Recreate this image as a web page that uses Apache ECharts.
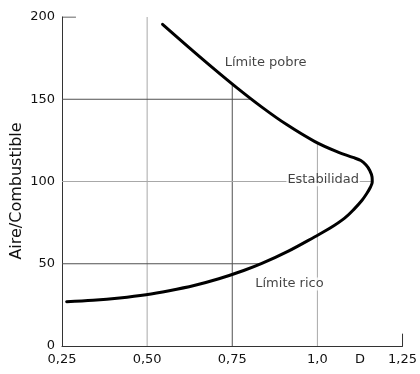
<!DOCTYPE html>
<html><head><meta charset="utf-8">
<script src="https://cdn.jsdelivr.net/npm/echarts@6/dist/echarts.min.js"></script>
<style>html,body{margin:0;padding:0;background:#fff}#c{width:420px;height:374px}</style>
</head><body><div id="c"></div>
<script>
// Curve: Aire/Combustible vs x (upper "pobre" branch, nose, then lower "rico" branch)
const curveX = [0.5453, 0.6182, 0.6911, 0.7640, 0.8369, 0.9098, 0.9926, 1.0605, 1.1042, 1.1276, 1.1430, 1.1538, 1.1605, 1.1611, 1.1552, 1.1450, 1.1305, 1.1092, 1.0800, 1.0363, 0.9926, 0.9147, 0.8369, 0.7835, 0.7106, 0.6378, 0.5649, 0.4969, 0.4191, 0.3413, 0.2637];
const curveY = [195.56, 182.31, 169.39, 156.93, 145.23, 134.59, 124.26, 117.87, 114.65, 112.77, 110.03, 106.69, 102.74, 99.70, 96.35, 92.70, 88.45, 83.53, 77.75, 71.55, 66.44, 57.69, 50.21, 45.90, 40.88, 36.78, 33.62, 31.19, 29.24, 27.84, 26.93];
const xTickValues = [0.25, 0.5, 0.75, 1.0, 1.125, 1.25];
const xTickLabels = ['0,25', '0,50', '0,75', '1,0', 'D', '1,25'];
const yTicks = [0, 50, 100, 150, 200];
// Grid lines, ending where they meet the curve
const vGridX = [0.5, 0.75, 1.0];
const vGridTop = [200, 159.3, 123.5];
const hGridY = [150, 100, 50];
const hGridEnd = [0.807, 1.161, 0.837];
const annNames = ['Límite pobre', 'Estabilidad', 'Límite rico'];
const annX = [0.848, 1.017, 0.918];
const annY = [172, 101, 37.7];

const dark = '#505050', light = '#a8a8a8';
const vColors = [light, dark, light];
const hColors = [dark, light, dark];
const series = [];
vGridX.forEach((x, i) => series.push({type:'line', data:[[x,0],[x,vGridTop[i]]], symbol:'none', silent:true, lineStyle:{color:vColors[i], width:1}, z:1}));
hGridY.forEach((y, i) => series.push({type:'line', data:[[0.25,y],[hGridEnd[i],y]], symbol:'none', silent:true, lineStyle:{color:hColors[i], width:1}, z:1}));
// end ticks
series.push({type:'line', data:[[0.25,200],[0.291,200]], symbol:'none', lineStyle:{color:'#333', width:1}, z:1});
series.push({type:'line', data:[[1.25,0],[1.25,7.5]], symbol:'none', lineStyle:{color:'#333', width:1}, z:1});
series.push({type:'line', data:curveX.map((x,i)=>[x,curveY[i]]), symbol:'none', smooth:0.35, lineStyle:{color:'#000', width:3, cap:'round', join:'round'}, z:5});
series.push({type:'scatter', symbolSize:0, z:4,
  data: annNames.map((n,i)=>({name:n, value:[annX[i], annY[i]]})),
  label:{show:true, position:'inside', formatter:p=>p.name, color:'#111', fontSize:13, fontFamily:'DejaVu Sans', backgroundColor:'#fff', padding:[0,1]}});

const chart = echarts.init(document.getElementById('c'));
chart.setOption({
  animation:false,
  grid:{left:62, right:15, top:17, bottom:28},
  graphic:[{type:'text', x:17, y:191, rotation:Math.PI/2,
    style:{text:'Aire/Combustible', fill:'#111', font:'16px "DejaVu Sans"', align:'center', verticalAlign:'middle'}}],
  xAxis:{type:'value', min:0.25, max:1.25, interval:0.125,
    axisLine:{lineStyle:{color:'#333', width:1}}, axisTick:{show:false}, splitLine:{show:false},
    axisLabel:{color:'#111', fontSize:13, fontFamily:'DejaVu Sans', margin:7, showMinLabel:true, showMaxLabel:true,
      formatter:v=>{const i=xTickValues.findIndex(t=>Math.abs(t-v)<1e-6); return i>=0?xTickLabels[i]:'';}}},
  yAxis:{type:'value', min:0, max:200, interval:50,
    axisLine:{show:true, lineStyle:{color:'#333', width:1}}, axisTick:{show:false}, splitLine:{show:false},
    axisLabel:{color:'#111', fontSize:13, fontFamily:'DejaVu Sans', margin:7,
      formatter:v=>yTicks.includes(v)?String(v):''}},
  series
});
</script></body></html>
